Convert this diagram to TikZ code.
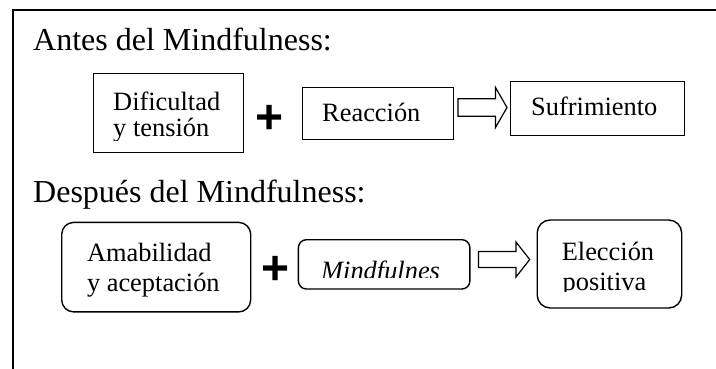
\documentclass[tikz,border=0pt]{standalone}
\usepackage{fontspec}
\setmainfont{Liberation Serif}
\setsansfont{Liberation Sans}
\usetikzlibrary{calc}
\tikzset{
  frame/.style={draw=black, line width=2pt},
  sqbox/.style={draw=black, line width=1.4pt, anchor=north west, inner sep=0pt},
  rdbox/.style={sqbox, rounded corners=#1},
  head/.style={anchor=base west, inner sep=0pt, font=\fontsize{32}{38}\selectfont},
  lbl/.style={anchor=base west, inner sep=0pt, font=\fontsize{26.4}{30}\selectfont},
  plus/.style={inner sep=0pt, font=\fontsize{48}{48}\selectfont\sffamily\bfseries},
  barrow/.style={draw=black, line width=1.2pt, fill=white, line join=miter}
}
\begin{document}
\begin{tikzpicture}[x=1pt, y=-1pt]
\useasboundingbox (0,0) rectangle (716,368);
\fill[white] (0,0) rectangle (716,368);
\draw[frame] (13,10) rectangle (740,400);

% headings
\node[head] (h1) at (33,50) {Antes del Mindfulness:};
\node[head] (h2) at (33,202.5) {Después del Mindfulness:};

% row 1 boxes
\node[sqbox, minimum width=150pt, minimum height=79.5pt] (dif) at (93,72.5) {};
\node[sqbox, minimum width=151pt, minimum height=52pt] (reac) at (301.5,86.5) {};
\node[sqbox, minimum width=173.5pt, minimum height=54pt] (suf) at (510,80.5) {};

\begin{scope}
  \clip (94,73) rectangle (242,140.5);
  \node[lbl] (dift1) at (113,110) {Dificultad};
  \node[lbl] (dift2) at (113,136.7) {y tensión};
\end{scope}
\node[lbl] (react) at (322,121.5) {Reacción};
\node[lbl] (suft) at (531,115) {Sufrimiento};

\node[plus] (p1) at (269.5,119.5) {+};

\coordinate (a1s) at (458,107.5);
\coordinate (a1e) at (507,107.5);
\draw[barrow] ($(a1s)+(0,-8.8)$) -- ($(a1e)+(-11.5,-8.8)$) -- ($(a1e)+(-11.5,-20)$)
  -- (a1e) -- ($(a1e)+(-11.5,20)$) -- ($(a1e)+(-11.5,8.8)$) -- ($(a1s)+(0,8.8)$) -- cycle;

% row 2 boxes
\node[rdbox=12pt, minimum width=189pt, minimum height=89.5pt] (amab) at (61,221.7) {};
\node[rdbox=8pt, minimum width=171.5pt, minimum height=49.3pt] (mind) at (297.7,239) {};
\node[rdbox=13pt, minimum width=144.5pt, minimum height=88pt] (elec) at (536.5,219.3) {};

\node[lbl] (amabt1) at (86.8,261.7) {Amabilidad};
\node[lbl] (amabt2) at (86.8,291.7) {y aceptación};
\begin{scope}
  \clip (299,240) rectangle (468,277.5);
  \node[lbl, font=\fontsize{26.4}{30}\selectfont\itshape] (mindt) at (321,279) {Mindfulnes};
\end{scope}
\node[lbl] (elect1) at (561.6,260) {Elección};
\begin{scope}
  \clip (538,221) rectangle (679,291.5);
  \node[lbl] (elect2) at (562.5,290) {positiva};
\end{scope}

\node[plus] (p2) at (275.5,270.5) {+};

\coordinate (a2s) at (478.5,259.5);
\coordinate (a2e) at (529.7,259.5);
\draw[barrow] ($(a2s)+(0,-8)$) -- ($(a2e)+(-13.7,-8)$) -- ($(a2e)+(-13.7,-17.5)$)
  -- (a2e) -- ($(a2e)+(-13.7,17.5)$) -- ($(a2e)+(-13.7,8)$) -- ($(a2s)+(0,8)$) -- cycle;
\end{tikzpicture}
\end{document}
